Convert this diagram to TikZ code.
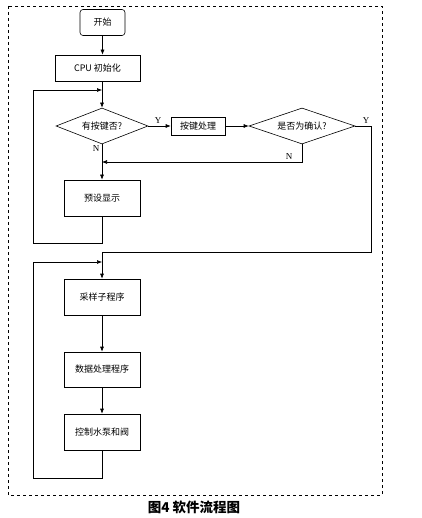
\documentclass[tikz,border=0pt]{standalone}
\usepackage{fontspec}
\setmainfont{Noto Sans CJK SC}
\newfontfamily\latinfont{Liberation Serif}
\usetikzlibrary{shapes.geometric,arrows.meta}

\begin{document}
\begin{tikzpicture}[x=1pt,y=-1pt,line width=.6pt,
    arr/.style={-{Latex[length=5pt,width=4pt]}},
    yn/.style={font=\latinfont\fontsize{9}{9}\selectfont, inner sep=0pt}]

        \useasboundingbox (0,0) rectangle (421,518);
        \draw[dashed] (8,6) rectangle (382,495);

        \begin{scope}[every node/.style={draw, font=\fontsize{9}{9}\selectfont, inner sep=1pt}]
          \node[rounded corners=3pt, minimum width=45pt, minimum height=26pt] (start) at (102.5,22.5) {开始};
          \node[minimum width=85pt, minimum height=26pt] (init) at (97.5,68) {CPU 初始化};
          \node[diamond, aspect=2.55, minimum width=92pt, minimum height=36pt] (key) at (102,126) {有按键否?};
          \node[minimum width=54pt, minimum height=18pt] (proc) at (198,126) {按键处理};
          \node[diamond, aspect=2.9, minimum width=106pt, minimum height=36pt] (ok) at (302,126) {是否为确认?};
          \node[minimum width=76pt, minimum height=36pt] (show) at (102,198) {预设显示};
          \node[minimum width=76pt, minimum height=36pt] (samp) at (102,297) {采样子程序};
          \node[minimum width=76pt, minimum height=35pt] (data) at (102,369.5) {数据处理程序};
          \node[minimum width=76pt, minimum height=36pt] (ctrl) at (102,432) {控制水泵和阀};
        \end{scope}

        \coordinate (j1) at (102,90);
        \coordinate (j2) at (102,162);
        \coordinate (j3) at (102,252);
        \coordinate (j4) at (102,262);

        % main line
        \draw[arr] (start) -- (start.south |- init.north);
        \draw (init.south -| key.north) -- (j1);
        \draw[arr] (j1) -- (key.north);
        \draw[arr] (key) -- (proc);
        \draw[arr] (proc) -- (ok);
        \draw[arr] (key.south) -- (show.north);
        \draw[arr] (ok.south) |- (j2);
        \draw[arr] (show.south) -- (102,243) -| (33,90) -- (j1);
        \draw (ok.east) -| (371,252) -- (j3);
        \draw[arr] (j3) -- (samp.north);
        \draw[arr] (samp) -- (data);
        \draw[arr] (data) -- (ctrl);
        \draw[arr] (ctrl.south) -- (102,478) -| (33,262) -- (j4);

        % Y / N
        \node[yn] (y1) at (158,121) {Y};
        \node[yn] (n1) at (96,149) {N};
        \node[yn] (y2) at (366,121) {Y};
        \node[yn] (n2) at (289,157) {N};

        \node[font=\fontsize{13.5}{14}\selectfont\bfseries] (cap) at (194,507) {图4\ 软件流程图};

      \end{tikzpicture}
\end{document}
